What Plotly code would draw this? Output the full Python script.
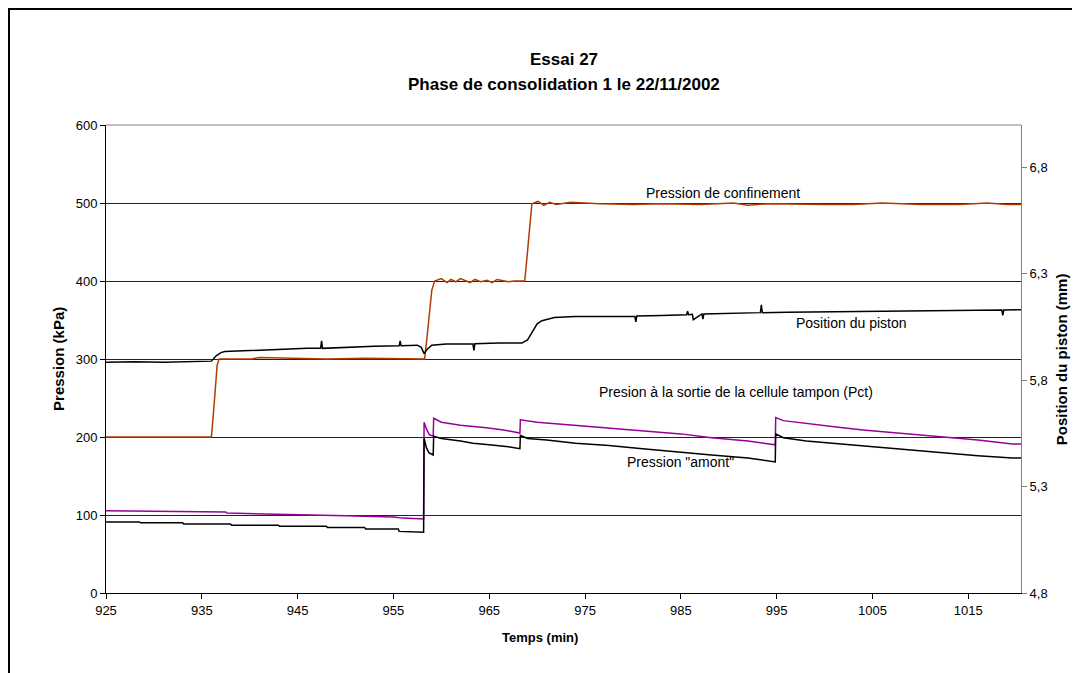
import plotly.graph_objects as go

# ---------------- data ----------------
# Pression de confinement (kPa)
t_conf = [925.0, 936.0, 936.2, 936.4, 936.6, 936.8, 940.2, 941.0, 948.0, 952.0,
          958.25, 958.5, 958.75, 959.0, 959.3, 960.0, 960.6, 961.0, 961.5, 962.0,
          962.6, 963.0, 963.5, 964.1, 964.8, 965.3, 965.8, 966.5, 967.0, 967.6,
          968.2, 968.7, 968.9, 969.1, 969.3, 969.45, 970.1, 970.7, 971.3, 972.0,
          973.5, 976.5, 980.0, 983.0, 987.0, 990.5, 992.0, 994.0, 1000.0, 1003.0,
          1006.0, 1010.0, 1014.0, 1017.0, 1019.0, 1020.5]
p_conf = [200, 200, 228, 262, 292, 300, 300, 302, 300, 301,
          300, 327, 358, 388, 400, 403, 398, 402, 399, 403,
          400, 398, 402, 399, 401, 398, 402, 400, 399, 400,
          400, 400, 425, 455, 485, 499, 502, 497, 501, 498,
          501, 499, 498, 499, 498, 500, 497, 499, 498, 498,
          500, 498, 498, 500, 498, 498]

# Position du piston (mm)
t_pos = [925.0, 928.0, 931.0, 934.0, 936.0, 936.5, 937.0, 937.4, 940.0, 943.0,
         946.0, 947.4, 947.5, 947.6, 950.0, 953.0, 955.6, 955.7, 955.8, 957.5,
         957.9, 958.2, 958.5, 959.0, 960.5, 963.3, 963.4, 963.5, 966.0, 968.4,
         969.0, 969.5, 970.0, 970.5, 971.8, 974.0, 977.5, 980.2, 980.3, 980.4,
         983.0, 985.6, 985.7, 985.8, 986.2, 986.3, 987.2, 987.3, 987.4, 990.0,
         993.3, 993.4, 993.5, 996.0, 1000.0, 1004.0, 1008.0, 1012.0, 1016.0, 1018.5,
         1018.6, 1018.7, 1020.5]
pos = [5.885, 5.887, 5.885, 5.888, 5.890, 5.915, 5.930, 5.935, 5.940, 5.945,
       5.950, 5.950, 5.985, 5.950, 5.955, 5.960, 5.962, 5.985, 5.962, 5.965,
       5.955, 5.925, 5.945, 5.965, 5.970, 5.970, 5.940, 5.972, 5.975, 5.975,
       5.990, 6.030, 6.065, 6.080, 6.095, 6.100, 6.100, 6.100, 6.075, 6.102,
       6.105, 6.108, 6.125, 6.108, 6.110, 6.085, 6.112, 6.088, 6.112, 6.115,
       6.118, 6.155, 6.118, 6.120, 6.122, 6.125, 6.128, 6.130, 6.130, 6.130,
       6.105, 6.130, 6.132]

# Pression "amont" (kPa)
t_am = [925.0, 928.5, 928.6, 933.0, 933.1, 938.0, 938.1, 943.0, 943.1, 948.0,
        948.1, 952.0, 952.1, 955.5, 955.6, 958.15, 958.2, 958.45, 958.7, 959.0,
        959.15, 959.2, 960.0, 962.0, 963.3, 965.0, 967.0, 968.2, 968.25, 969.0,
        971.0, 974.0, 977.5, 981.0, 985.0, 988.2, 992.0, 994.85, 994.9, 995.7,
        998.1, 1001.0, 1004.0, 1006.9, 1010.0, 1013.0, 1016.0, 1019.6, 1020.5]
amont = [91, 91, 90, 90, 88.5, 88.5, 87, 87, 85.5, 85.5,
         84, 84, 82, 82, 79, 78, 198, 186, 180, 178,
         177, 201, 198, 195, 192, 190, 187.5, 185, 202, 198,
         196, 192, 189, 185, 181, 177, 173, 168, 204, 199,
         195, 192, 188, 185, 182, 179, 176, 173, 173]

# Presion a la sortie de la cellule tampon, Pct (kPa)
t_pct = [925.0, 930.0, 935.0, 937.5, 937.6, 942.0, 947.0, 950.0, 955.0, 956.0,
         958.15, 958.2, 958.45, 958.75, 959.15, 959.2, 960.0, 962.0, 964.7, 966.5,
         968.2, 968.25, 970.0, 973.0, 977.5, 981.0, 985.0, 988.2, 992.0, 994.85,
         994.9, 995.7, 998.1, 1001.0, 1004.0, 1006.9, 1010.0, 1013.0, 1016.0, 1019.6,
         1020.5]
pct = [105.5, 105, 104.5, 104, 102.5, 101.5, 100, 99, 97.5, 96,
       95, 219, 210, 203, 201, 224, 219, 215, 212, 209,
       205, 222, 219, 216, 212, 208, 204, 199, 195, 190,
       225, 221, 217, 213, 209, 206, 202, 199, 196, 191,
       191]

x_ticks = [925, 935, 945, 955, 965, 975, 985, 995, 1005, 1015]

FONT = "Liberation Sans, Arial, sans-serif"
BROWN = "rgb(178,60,0)"
PURPLE = "rgb(153,0,153)"

fig = go.Figure()
fig.add_trace(go.Scatter(x=t_conf, y=p_conf, mode="lines",
                         line=dict(color=BROWN, width=1.5), name="Pression de confinement"))
fig.add_trace(go.Scatter(x=t_pct, y=pct, mode="lines",
                         line=dict(color=PURPLE, width=1.5), name="Pct"))
fig.add_trace(go.Scatter(x=t_am, y=amont, mode="lines",
                         line=dict(color="black", width=1.5), name="Pression amont"))
fig.add_trace(go.Scatter(x=t_pos, y=pos, mode="lines", yaxis="y2",
                         line=dict(color="black", width=1.5), name="Position du piston"))

fig.update_layout(
    width=1080, height=673,
    margin=dict(l=98, r=67, t=117, b=88),
    paper_bgcolor="white", plot_bgcolor="white",
    showlegend=False,
    separators=", ",
    font=dict(family=FONT, size=13, color="black"),
    xaxis=dict(range=[925, 1020.5], tickvals=x_ticks, ticks="outside", ticklen=5,
               tickcolor="black", showline=True, linecolor="black", linewidth=1,
               showgrid=False, zeroline=False, tickfont=dict(size=13)),
    yaxis=dict(range=[0, 600], tick0=0, dtick=100, ticks="outside", ticklen=5,
               tickcolor="black", showline=True, linecolor="black", linewidth=1,
               showgrid=True, gridcolor="#222222", gridwidth=1, zeroline=False,
               tickfont=dict(size=13)),
    yaxis2=dict(range=[4.8, 7.0], tick0=4.8, dtick=0.5, tickformat=".1f",
                overlaying="y", side="right", ticks="outside", ticklen=5,
                tickcolor="#808080", showline=True, linecolor="#808080", linewidth=1,
                showgrid=False, zeroline=False, tickfont=dict(size=13)),
)

ann = []
# titles
ann.append(dict(text="<b>Essai 27</b>", xref="paper", yref="paper", x=0.5, y=1.141,
                showarrow=False, font=dict(size=17), xanchor="center", yanchor="middle"))
ann.append(dict(text="<b>Phase de consolidation 1 le 22/11/2002</b>", xref="paper", yref="paper",
                x=0.5, y=1.0876, showarrow=False, font=dict(size=17),
                xanchor="center", yanchor="middle"))
# axis titles
ann.append(dict(text="<b>Pression (kPa)</b>", xref="paper", yref="paper", x=-0.0525, y=0.5,
                textangle=-90, showarrow=False, font=dict(size=15),
                xanchor="center", yanchor="middle"))
ann.append(dict(text="<b>Position du piston (mm)</b>", xref="paper", yref="paper", x=1.044, y=0.5,
                textangle=-90, showarrow=False, font=dict(size=15),
                xanchor="center", yanchor="middle"))
ann.append(dict(text="<b>Temps (min)</b>", xref="paper", yref="paper", x=0.474, y=-0.096,
                showarrow=False, font=dict(size=13), xanchor="center", yanchor="middle"))
# series labels
ann.append(dict(text="Pression de confinement", x=989.4, y=513, xref="x", yref="y",
                showarrow=False, font=dict(size=14), xanchor="center", yanchor="middle"))
ann.append(dict(text="Position du piston", x=1002.8, y=346, xref="x", yref="y",
                showarrow=False, font=dict(size=14), xanchor="center", yanchor="middle"))
ann.append(dict(text="Presion à la sortie de la cellule tampon (Pct)", x=990.8, y=258,
                xref="x", yref="y", showarrow=False, font=dict(size=14),
                xanchor="center", yanchor="middle"))
ann.append(dict(text="Pression \"amont\"", x=985.0, y=168, xref="x", yref="y",
                showarrow=False, font=dict(size=14), xanchor="center", yanchor="middle"))
fig.update_layout(annotations=ann)

# outer chart-area border
fig.add_shape(type="rect", xref="paper", yref="paper",
              x0=-0.106, x1=1.12, y0=-0.25, y1=1.248,
              line=dict(color="black", width=2), fillcolor="rgba(0,0,0,0)")
# grey top frame of the plot area
fig.add_shape(type="line", xref="paper", yref="paper", x0=0, x1=1, y0=1, y1=1,
              line=dict(color="#808080", width=1))

fig.write_html("out.html")
